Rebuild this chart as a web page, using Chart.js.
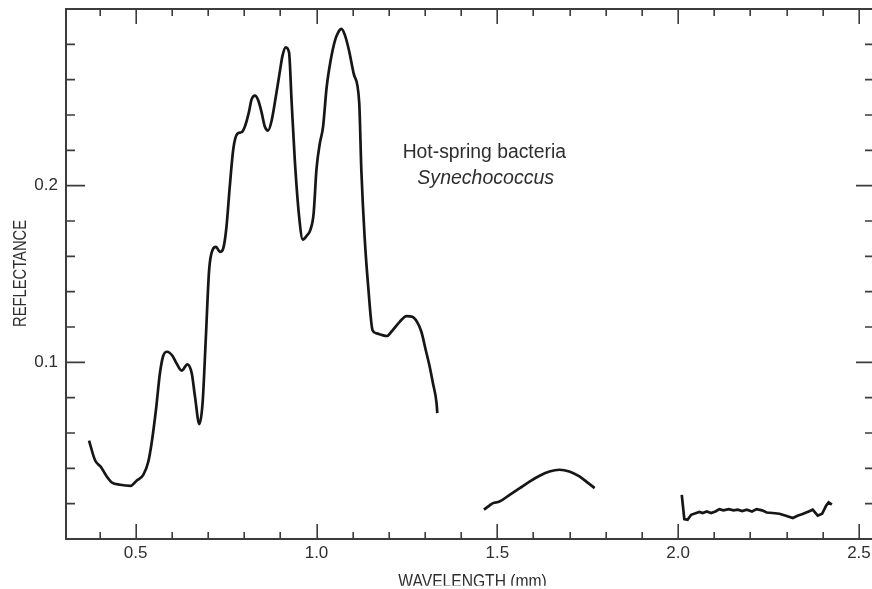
<!DOCTYPE html>
<html>
<head>
<meta charset="utf-8">
<title>Hot-spring bacteria reflectance</title>
<script src="https://cdn.jsdelivr.net/npm/chart.js@4/dist/chart.umd.min.js"></script>
<style>
  html, body { margin: 0; padding: 0; background: #ffffff; overflow: hidden; }
  #wrap { width: 872px; height: 589px; }
</style>
</head>
<body>
<div id="wrap"><canvas id="c" width="872" height="589"></canvas></div>
<script>
// Reflectance spectrum of Synechococcus, in three pieces separated by
// the atmospheric water-absorption gaps.
const visWavelength = [0.371, 0.388, 0.403, 0.420, 0.434, 0.457, 0.486, 0.503, 0.521, 0.535,
  0.544, 0.556, 0.567, 0.576, 0.587, 0.602, 0.613, 0.627, 0.643, 0.655,
  0.664, 0.676, 0.685, 0.694, 0.703, 0.713, 0.722, 0.733, 0.742, 0.751,
  0.760, 0.770, 0.781, 0.793, 0.802, 0.814, 0.820, 0.830, 0.839, 0.848,
  0.857, 0.866, 0.876, 0.888, 0.899, 0.906, 0.915, 0.924, 0.931, 0.940,
  0.952, 0.962, 0.974, 0.983, 0.992, 1.000, 1.009, 1.018, 1.028, 1.039,
  1.051, 1.060, 1.069, 1.078, 1.090, 1.103, 1.118, 1.124, 1.133, 1.143,
  1.155, 1.166, 1.182, 1.195, 1.207, 1.230, 1.249, 1.265, 1.278, 1.290,
  1.302, 1.313, 1.322, 1.332, 1.334];
const visReflectance = [0.0557, 0.0444, 0.0410, 0.0354, 0.0320, 0.0307, 0.0301, 0.0331, 0.0363, 0.0439,
  0.0542, 0.0730, 0.0938, 0.1036, 0.1060, 0.1036, 0.0994, 0.0953, 0.0989, 0.0938,
  0.0806, 0.0650, 0.0770, 0.1140, 0.1521, 0.1638, 0.1653, 0.1625, 0.1644, 0.1766,
  0.1992, 0.2209, 0.2294, 0.2303, 0.2335, 0.2425, 0.2486, 0.2510, 0.2482, 0.2416,
  0.2335, 0.2312, 0.2369, 0.2510, 0.2651, 0.2736, 0.2783, 0.2755, 0.2482, 0.2143,
  0.1823, 0.1695, 0.1719, 0.1750, 0.1842, 0.2095, 0.2237, 0.2331, 0.2557, 0.2708,
  0.2821, 0.2868, 0.2887, 0.2855, 0.2764, 0.2633, 0.2472, 0.2086, 0.1710, 0.1427,
  0.1182, 0.1164, 0.1154, 0.1149, 0.1173, 0.1229, 0.1262, 0.1258, 0.1229, 0.1173,
  0.1070, 0.0975, 0.0881, 0.0768, 0.0712];

const swir1Wavelength = [1.463, 1.477, 1.488, 1.506, 1.534, 1.562, 1.589, 1.617, 1.644, 1.672,
  1.699, 1.727, 1.746, 1.769];
const swir1Reflectance = [0.0166, 0.0188, 0.0203, 0.0212, 0.0250, 0.0288, 0.0325, 0.0358, 0.0382, 0.0392,
  0.0382, 0.0354, 0.0325, 0.0288];

const swir2Wavelength = [2.010, 2.017, 2.026, 2.036, 2.050, 2.059, 2.068, 2.079, 2.091, 2.103,
  2.114, 2.125, 2.140, 2.153, 2.165, 2.177, 2.190, 2.204, 2.217, 2.232,
  2.245, 2.261, 2.280, 2.298, 2.317, 2.330, 2.344, 2.361, 2.372, 2.386,
  2.398, 2.409, 2.416, 2.425];
const swir2Reflectance = [0.0250, 0.0113, 0.0109, 0.0137, 0.0147, 0.0153, 0.0147, 0.0156, 0.0147, 0.0156,
  0.0169, 0.0162, 0.0169, 0.0162, 0.0166, 0.0158, 0.0166, 0.0156, 0.0169, 0.0162,
  0.0150, 0.0147, 0.0143, 0.0132, 0.0119, 0.0132, 0.0141, 0.0156, 0.0166, 0.0132,
  0.0143, 0.0188, 0.0207, 0.0194];

// Axis ticks
const xLabelTicks = [0.5, 1.0, 1.5, 2.0, 2.5];
const xMinorTicks = [0.4, 0.5, 0.6, 0.7, 0.8, 0.9, 1.0, 1.1, 1.2, 1.3, 1.4, 1.5, 1.6, 1.7,
  1.8, 1.9, 2.0, 2.1, 2.2, 2.3, 2.4, 2.5];
const yLabelTicks = [0.1, 0.2];
const yMinorTicks = [0.02, 0.04, 0.06, 0.08, 0.1, 0.12, 0.14, 0.16, 0.18, 0.2,
  0.22, 0.24, 0.26, 0.28];

const xTitle = 'WAVELENGTH (mm)';
const yTitle = 'REFLECTANCE';
const noteLine1 = 'Hot-spring bacteria';
const noteLine2 = 'Synechococcus';

const AXIS = '#3c3c3c';
const TEXT = '#2e2e2e';
const CURVE = '#161616';
const NARROW = '"Liberation Sans Narrow", "Liberation Sans", Arial, sans-serif';
const SANS = '"Liberation Sans", Arial, sans-serif';

function toPoints(xs, ys) {
  return xs.map((x, i) => ({ x: x, y: ys[i] }));
}

function isMajor(v, step) {
  return Math.abs(v / step - Math.round(v / step)) < 1e-6;
}

// Text squeezed or stretched horizontally to a given width.
function fitText(ctx, text, font, width) {
  ctx.font = font;
  const w = ctx.measureText(text).width;
  ctx.scale(width / w, 1);
  ctx.fillText(text, 0, 0);
}

// Keep the axes from reserving room for overhanging labels.
function noOverhang(s) {
  s.paddingTop = 0;
  s.paddingBottom = 0;
  s.paddingLeft = 0;
  s.paddingRight = 0;
}

const framePlugin = {
  id: 'frame',
  afterDraw(chart) {
    const { ctx, chartArea: a, scales } = chart;
    const xs = scales.x, ys = scales.y;
    ctx.save();
    ctx.strokeStyle = AXIS;
    ctx.lineCap = 'butt';

    // open frame: top, left, bottom
    ctx.lineWidth = 2;
    ctx.beginPath();
    ctx.moveTo(a.right + 2, a.top);
    ctx.lineTo(a.left, a.top);
    ctx.lineTo(a.left, a.bottom);
    ctx.lineTo(a.right + 2, a.bottom);
    ctx.stroke();

    // inward tick marks
    ctx.lineWidth = 1.6;
    ctx.beginPath();
    xMinorTicks.forEach(v => {
      const px = Math.round(xs.getPixelForValue(v)) + 0.2;
      const major = isMajor(v, 0.5);
      ctx.moveTo(px, a.bottom);
      ctx.lineTo(px, a.bottom - (major ? 15 : 7));
      ctx.moveTo(px, a.top);
      ctx.lineTo(px, a.top + (major ? 15 : 7));
    });
    yMinorTicks.forEach(v => {
      const py = ys.getPixelForValue(v);
      const major = isMajor(v, 0.1);
      ctx.moveTo(a.left, py);
      ctx.lineTo(a.left + (major ? 19 : 9), py);
      ctx.moveTo(a.right, py);
      ctx.lineTo(a.right - (major ? 16 : 7), py);
    });
    ctx.stroke();

    ctx.fillStyle = TEXT;
    ctx.textBaseline = 'alphabetic';
    ctx.textAlign = 'center';

    // y-axis title
    ctx.save();
    ctx.translate(26, 273.5);
    ctx.rotate(-Math.PI / 2);
    fitText(ctx, yTitle, '18.5px ' + NARROW, 107);
    ctx.restore();

    // x-axis title, trimmed at the lower edge
    ctx.save();
    ctx.beginPath();
    ctx.rect(0, a.bottom + 20, chart.width, 585.8 - (a.bottom + 20));
    ctx.clip();
    ctx.translate(472.5, 586.6);
    fitText(ctx, xTitle, '18.5px ' + NARROW, 148.4);
    ctx.restore();

    // annotation
    ctx.save();
    ctx.translate(484.3, 158.3);
    fitText(ctx, noteLine1, '20px ' + SANS, 163.3);
    ctx.restore();
    ctx.save();
    ctx.translate(485.7, 184.3);
    fitText(ctx, noteLine2, 'italic 20px ' + SANS, 136.7);
    ctx.restore();

    ctx.restore();
  }
};

const lineStyle = {
  borderColor: CURVE,
  borderWidth: 2.7,
  pointRadius: 0,
  fill: false,
  cubicInterpolationMode: 'monotone',
  borderJoinStyle: 'round',
  borderCapStyle: 'butt'
};

// the noisy long-wave piece is drawn as a plain polyline
const jaggedStyle = Object.assign({}, lineStyle, { cubicInterpolationMode: 'default', tension: 0, borderJoinStyle: 'miter' });

new Chart(document.getElementById('c'), {
  type: 'line',
  data: {
    datasets: [
      Object.assign({ label: 'visible-NIR', data: toPoints(visWavelength, visReflectance) }, lineStyle),
      Object.assign({ label: 'SWIR 1', data: toPoints(swir1Wavelength, swir1Reflectance) }, lineStyle),
      Object.assign({ label: 'SWIR 2', data: toPoints(swir2Wavelength, swir2Reflectance) }, jaggedStyle)
    ]
  },
  options: {
    responsive: false,
    animation: false,
    events: [],
    layout: { autoPadding: false, padding: { top: 9, left: 0, right: 0, bottom: 0 } },
    plugins: { legend: { display: false }, tooltip: { enabled: false }, title: { display: false } },
    scales: {
      x: {
        type: 'linear',
        min: 0.3073,
        max: 2.536,
        grid: { display: false, drawTicks: false },
        border: { display: false },
        afterBuildTicks: s => { s.ticks = xLabelTicks.map(v => ({ value: v })); },
        afterFit: s => { s.height = 50; noOverhang(s); },
        ticks: {
          autoSkip: false,
          maxRotation: 0,
          padding: 4,
          color: TEXT,
          font: { family: NARROW, size: 17 },
          callback: v => Number(v).toFixed(1)
        }
      },
      y: {
        type: 'linear',
        min: 0,
        max: 0.3,
        grid: { display: false, drawTicks: false },
        border: { display: false },
        afterBuildTicks: s => { s.ticks = yLabelTicks.map(v => ({ value: v })); },
        afterFit: s => { s.width = 66; noOverhang(s); },
        ticks: {
          autoSkip: false,
          padding: 8,
          color: TEXT,
          font: { family: NARROW, size: 17 },
          callback: v => Number(v).toFixed(1)
        }
      }
    }
  },
  plugins: [framePlugin]
});
</script>
</body>
</html>
